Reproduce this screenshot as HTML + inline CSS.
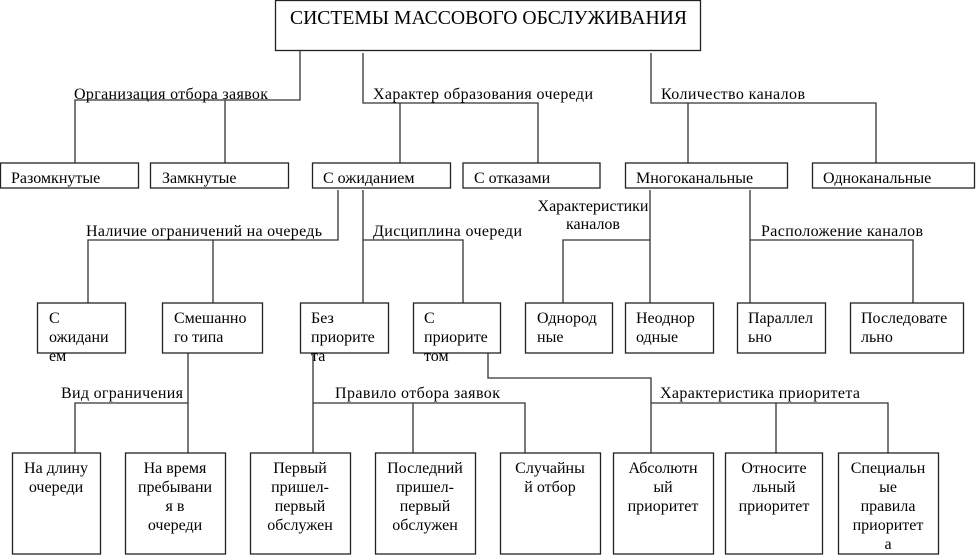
<!DOCTYPE html>
<html><head><meta charset="utf-8"><style>
html,body{margin:0;padding:0;background:#fff;}
svg{display:block;}
text{font-family:"Liberation Serif","DejaVu Serif",serif;font-size:16px;fill:#000;}
.b{fill:#fff;stroke:#222;stroke-width:1.3;}
.l{stroke:#333;stroke-width:1.3;fill:none;}
.c{text-anchor:middle;}
</style></head><body>
<svg width="977" height="555" viewBox="0 0 977 555" xmlns="http://www.w3.org/2000/svg">
<polyline class="l" points="300,50 300,100 75,100 75,163"/>
<line class="l" x1="225" y1="100" x2="225" y2="163"/>
<polyline class="l" points="363,53 363,103 538,103 538,163"/>
<line class="l" x1="400" y1="103" x2="400" y2="163"/>
<polyline class="l" points="651,53 651,103 876,103 876,163"/>
<line class="l" x1="688" y1="103" x2="688" y2="163"/>

<polyline class="l" points="338,190 338,240 88,240 88,303"/>
<line class="l" x1="213" y1="240" x2="213" y2="303"/>
<polyline class="l" points="363,190 363,303"/>
<polyline class="l" points="363,240 463,240 463,303"/>
<polyline class="l" points="650,190 650,303"/>
<polyline class="l" points="650,240 563,240 563,303"/>
<polyline class="l" points="750,190 750,303"/>
<polyline class="l" points="750,240 913,240 913,303"/>

<polyline class="l" points="188,353 188,453"/>
<polyline class="l" points="188,403 75,403 75,453"/>
<polyline class="l" points="313,353 313,453"/>
<polyline class="l" points="313,403 525,403 525,453"/>
<line class="l" x1="413" y1="403" x2="413" y2="453"/>
<polyline class="l" points="488,353 488,378 651,378 651,453"/>
<polyline class="l" points="651,403 888,403 888,453"/>
<line class="l" x1="776" y1="403" x2="776" y2="453"/>

<rect class="b" x="275.5" y="0.5" width="425" height="50"/>
<text x="290" y="24" style="font-size:19.5px" textLength="397" lengthAdjust="spacingAndGlyphs">СИСТЕМЫ МАССОВОГО ОБСЛУЖИВАНИЯ</text>

<text x="74" y="99" textLength="194">Организация отбора заявок</text>
<text x="373" y="99" textLength="220">Характер образования очереди</text>
<text x="661" y="99" textLength="144">Количество каналов</text>
<text x="86" y="236" textLength="236">Наличие ограничений на очередь</text>
<text x="373" y="236" textLength="149">Дисциплина очереди</text>
<text x="593" y="211" class="c">Характеристики</text>
<text x="593" y="229" class="c">каналов</text>
<text x="761" y="236" textLength="162">Расположение каналов</text>
<text x="61" y="398" textLength="122">Вид ограничения</text>
<text x="335" y="398" textLength="165">Правило отбора заявок</text>
<text x="660" y="398" textLength="200">Характеристика приоритета</text>

<rect class="b" x="0.5" y="163" width="138" height="25"/><text x="11" y="183">Разомкнутые</text>
<rect class="b" x="150.5" y="163" width="138" height="25"/><text x="162" y="183">Замкнутые</text>
<rect class="b" x="312.5" y="163" width="138" height="25"/><text x="323" y="183">С ожиданием</text>
<rect class="b" x="463" y="163" width="137" height="25"/><text x="474" y="183">С отказами</text>
<rect class="b" x="625.5" y="163" width="162" height="25"/><text x="636" y="183">Многоканальные</text>
<rect class="b" x="812.5" y="163" width="162" height="25"/><text x="823" y="183">Одноканальные</text>

<rect class="b" x="37.5" y="303" width="88" height="50"/>
<text x="49" y="323">С</text><text x="49" y="342">ожидани</text><text x="49" y="361">ем</text>
<rect class="b" x="162.5" y="303" width="100" height="50"/>
<text x="174" y="323">Смешанно</text><text x="174" y="342">го типа</text>
<rect class="b" x="300.5" y="303" width="88" height="50"/>
<text x="311" y="323">Без</text><text x="311" y="342">приорите</text><text x="311" y="361">та</text>
<rect class="b" x="413.5" y="303" width="87" height="50"/>
<text x="424" y="323">С</text><text x="424" y="342">приорите</text><text x="424" y="361">том</text>
<rect class="b" x="525.5" y="303" width="87" height="50"/>
<text x="537" y="323">Однород</text><text x="537" y="342">ные</text>
<rect class="b" x="625.5" y="303" width="88" height="50"/>
<text x="636" y="323">Неоднор</text><text x="636" y="342">одные</text>
<rect class="b" x="737.5" y="303" width="88" height="50"/>
<text x="748" y="323">Параллел</text><text x="748" y="342">ьно</text>
<rect class="b" x="850.5" y="303" width="113" height="50"/>
<text x="861" y="323">Последовате</text><text x="861" y="342">льно</text>

<rect class="b" x="12.5" y="453" width="88" height="101"/>
<text x="56" y="473" class="c">На длину</text><text x="56" y="492" class="c">очереди</text>
<rect class="b" x="125.5" y="453" width="100" height="101"/>
<text x="175" y="473" class="c">На время</text><text x="175" y="492" class="c">пребывани</text><text x="175" y="511" class="c">я в</text><text x="175" y="530" class="c">очереди</text>
<rect class="b" x="250.5" y="453" width="100" height="101"/>
<text x="300" y="473" class="c">Первый</text><text x="300" y="492" class="c">пришел-</text><text x="300" y="511" class="c">первый</text><text x="300" y="530" class="c">обслужен</text>
<rect class="b" x="375.5" y="453" width="100" height="101"/>
<text x="425" y="473" class="c">Последний</text><text x="425" y="492" class="c">пришел-</text><text x="425" y="511" class="c">первый</text><text x="425" y="530" class="c">обслужен</text>
<rect class="b" x="500.5" y="453" width="100" height="101"/>
<text x="550" y="473" class="c">Случайны</text><text x="550" y="492" class="c">й отбор</text>
<rect class="b" x="613.5" y="453" width="100" height="101"/>
<text x="663" y="473" class="c">Абсолютн</text><text x="663" y="492" class="c">ый</text><text x="663" y="511" class="c">приоритет</text>
<rect class="b" x="725.5" y="453" width="97" height="101"/>
<text x="774" y="473" class="c">Относите</text><text x="774" y="492" class="c">льный</text><text x="774" y="511" class="c">приоритет</text>
<rect class="b" x="838.5" y="453" width="100" height="101"/>
<text x="888" y="473" class="c">Специальн</text><text x="888" y="492" class="c">ые</text><text x="888" y="511" class="c">правила</text><text x="888" y="530" class="c">приоритет</text><text x="888" y="549" class="c">а</text>
</svg>
</body></html>
